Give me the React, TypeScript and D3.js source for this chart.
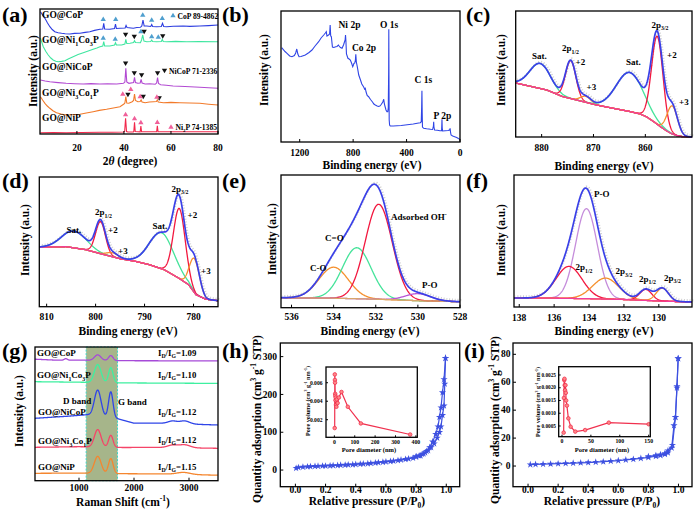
import React from "react";
import * as d3 from "d3";

const FONT = "'Liberation Serif','Times New Roman',Times,serif";

// ================= (a) XRD =================
const xrdTicks = [20, 40, 60, 80];
const xrdCoP = [[4.5,122.3],[5.5,118.5],[6.4,115.7],[7.5,111],[8.5,107.3],[9.5,104.5],[10.6,102.3],[12,101.2],[13.5,100.7],[15,100.3],[17,100],[19,100.6],[21.3,100.7],[23.5,101.6],[25.5,102.3],[27.5,103.6],[29.8,104.7],[31,105],[31.4,110.7],[31.8,105],[34,104.7],[36,105.5],[36.4,110],[36.8,105.5],[38.3,105.7],[40.5,106],[40.9,108.5],[41.3,106.5],[43,106],[44,105.7],[45.5,106.5],[47,106.7],[47.6,108],[48.1,114],[48.6,108],[49.7,108],[51.4,107.5],[51.8,109.5],[52.2,107.5],[53.9,107.3],[55.9,107.5],[56.4,110.7],[56.9,107.5],[58.2,107.3],[61,107.8],[65.2,108],[68,107.6],[72.3,108],[76,108.4],[80,109]];
const xrdNi1Co3P = [[4.5,95.7],[5.7,87.3],[6.8,82.5],[7.8,79],[8.9,76],[9.9,74],[11,72.8],[12,72.3],[13.5,72.6],[14.9,73.3],[16.5,75.2],[18.4,77.3],[20.5,79.4],[22.7,81.3],[24.8,83],[26.9,84.7],[28.5,86],[29.8,87.3],[31,88],[31.4,92.3],[31.8,88],[34,88],[36,89],[36.4,91.3],[36.8,89],[39,89],[40.4,90],[40.8,94.7],[41.2,90.5],[42.6,90.7],[44.1,91.5],[44.5,93.3],[44.9,91.5],[47,91.3],[47.5,94],[48,99],[48.5,93],[49.7,92.3],[51.4,92.5],[51.8,94],[52.2,92.5],[53.9,92.3],[55.9,92.5],[56.3,94.7],[56.7,92.5],[58.2,92.3],[62,92.6],[66.7,92.3],[72,92.5],[80,92.3]];
const xrdNiCoP = [[4.5,54],[6.5,53],[8.5,52.3],[12,51.4],[15.4,50.7],[19,50.3],[22.7,50],[26,50.4],[29.8,50],[33,50.3],[36.9,50],[39.8,50.7],[40.4,52],[40.8,65.7],[41.2,52],[42.1,50.7],[44.1,51.5],[44.5,56.7],[44.9,51.5],[45.9,50.7],[46.9,51],[47.3,54.7],[47.7,51],[49,50],[51,50.2],[53.3,49.7],[53.9,51],[54.3,56.3],[54.7,50.5],[55.6,49.3],[58,48.7],[60.9,48],[66,47.5],[72.3,46.7],[76,46.3],[80,45.7]];
const xrdNi3Co1P = [[4.5,37.3],[5.4,34],[6.4,30.7],[7.4,28],[8.5,25.7],[9.8,23.3],[11.3,21.3],[13.3,20],[15.4,19],[18,19.3],[21.3,19.7],[24,21],[26.9,22.3],[29.5,23.6],[32.6,24.7],[35.5,26],[38.3,27.3],[40,30],[40.4,31],[40.8,37.3],[41.2,31],[42.1,30.7],[43.5,32.3],[44.1,33.5],[44.5,40],[44.9,33.5],[45.9,32.3],[46.9,32.5],[47.3,34],[47.7,32],[49,31.3],[50.8,32],[52.6,32.3],[53.8,32.5],[54.2,34],[54.6,32],[56.8,31.3],[60,31.6],[63.8,31.3],[68,31],[72.3,30.7],[76,29.8],[80,29]];
const xrdNiP = [[4.5,1.3],[10,1.4],[15.4,1.3],[22,1.5],[29.8,1.7],[35,1.8],[39.8,2],[40.3,2.5],[40.7,15.7],[41.1,2.5],[41.7,2],[44,2],[44.2,2.5],[44.5,11.7],[44.8,2.5],[46.9,2.2],[47.2,8],[47.5,2.2],[53.9,2.2],[54.2,8.3],[54.5,2.2],[60,2.2],[66,2.2],[72,2.3],[80,2.3]];
const xrdUpCyan = [[31.2,114.7],[36.5,114.7],[48,119],[51.8,114],[56.3,115.7],[31.2,96],[36.3,95],[47.2,102.5],[51.8,97.5],[54.6,97]];
const xrdDown = [[40.7,99.5],[44.4,97.5],[48.6,102.5],[56.5,98],[40.7,70.7],[44.4,61],[47.5,59],[54.3,61],[41.7,39.5],[48.2,37.5],[55,36]];
const xrdUpPink = [[39.5,40],[42.9,44.7],[46.9,37.5],[54,37],[40.7,19.5],[44.5,15.5],[47.2,11.5],[54.2,11.8]];

// ================= (b) XPS survey =================
const surveyTicks = [1200, 800, 400, 0];
const survey = [[1335,94.3],[1310,90.5],[1295,88.7],[1275,86],[1258,85.3],[1240,86.5],[1230,89],[1222,93],[1214,88],[1205,85.3],[1190,85.5],[1158,87],[1130,89.5],[1108,92],[1085,96],[1058,100.3],[1040,104],[1020,107],[1008,109],[1001,110.3],[996,106],[990,106.5],[984,107],[976,108],[972,117],[968,106],[963,105.3],[955,95],[945,94.5],[930,95.3],[921,95.5],[910,97],[905,96],[895,94.5],[883,93.7],[872,97],[865,100],[860,102],[857,107],[854,101],[850,88],[839,83.7],[830,83],[821,82],[812,79],[803,75.3],[798,77],[794,78.7],[788,79],[783,82],[780,87.7],[776,80],[769,75.3],[758,67],[745,62],[735,58],[721,55],[714,53],[709,53.7],[703,50],[695,46.5],[684,45.3],[670,42.5],[655,40],[645,38],[634,37],[620,36],[610,35.5],[600,36],[590,37.5],[578,40],[571,42.7],[566,38],[560,35],[554,32],[547,30.3],[541,30.3],[537,34],[534,70],[533,112.7],[531.5,60],[530,22],[527,17],[522,16],[500,16],[470,16.3],[440,16.5],[410,17],[380,17.5],[350,18],[320,18.7],[297,19.3],[290,20.3],[287,35],[285,51.3],[283,30],[281,15],[272,13.7],[250,13.2],[220,12.7],[205,12.5],[199,16],[197,20.3],[195,15],[190,12],[170,11.7],[150,11.3],[138,11.3],[136,18],[135,22.7],[133,14],[130,11],[110,11.3],[90,11.5],[78,12],[74,13.7],[71,10],[67,7],[55,6],[40,5.3],[25,4.5],[12,3.5],[5,3],[0,2.7]];

// ================= (c) Ni 2p =================
const niTicks = [880, 870, 860];
const niBg = [[885,54],[882,50.5],[879,47],[876,40.5],[872.5,36],[869.4,32],[866,28.5],[863,25.5],[861,23],[859.7,20],[858.3,15],[857,10],[856,6.5],[855,3.5],[854,1.5],[853,0.5],[851,0]];
const niPeaks = [[880.3,25,2.0],[874.4,38,1.0],[871.5,6,1.0],[863.0,39,2.6],[857.7,88,1.1],[854.8,28,1.0]];

// ================= (d) Co 2p =================
const coTicks = [810, 800, 790, 780];
const coBg = [[811.5,59.5],[806,60],[802,57],[799,53],[795,48],[792,45.5],[789,42],[786,37],[783,28.5],[781,22],[779.5,12],[777.5,7.5],[775,6]];
const coPeaks = [[804.4,16.7,2.5],[799.0,32,1.0],[796.5,4,1.2],[786.5,36,2.5],[782.9,70,1.2],[779.8,34,1.0]];

// ================= (e) O 1s =================
const oTicks = [536, 534, 532, 530, 528];
const oBg = [[536.5,10],[534,9.5],[532,8.5],[530,7],[528,6]];
const oPeaks = [[534.0,31,0.7],[532.9,51,0.68],[531.86,95,0.64],[530.0,7,0.6]];

// ================= (f) P 2p =================
const pTicks = [138, 136, 134, 132, 130];
const pBg = [[138.3,9],[136,8.8],[134,8.3],[132,7.5],[130,6],[128.1,5]];
const pPeaks = [[134.15,90,0.62],[135.15,32,0.75],[133.05,21,0.75],[130.75,11,0.35],[129.8,13,0.35]];

// ================= (g) Raman =================
const ramanTicks = [1000, 2000, 3000];
const ramanBand = [1130, 1700];
const ramanBaseCoP = [[200,121.5],[600,120.5],[1100,120.5],[1800,120],[3527,119.8]];
const ramanPeaksCoP = [[1340,5.5,58],[1578,5,40],[760,1.5,30]];
const ramanBaseNi1Co3P = [[200,99],[1000,98.5],[1800,97.8],[3527,97.3]];
const ramanPeaksNi1Co3P = [[1340,18,60],[1578,15,40]];
const ramanBaseNiCoP = [[200,62.4],[800,64.5],[1150,66],[1700,62],[2000,57.5],[2500,57.5],[3527,55.7]];
const ramanPeaksNiCoP = [[1340,26,60],[1578,26,40],[2700,2.5,80],[2920,3,90]];
const ramanBaseNi3Co1P = [[200,33.4],[1000,34],[1800,33.2],[2400,33.3],[3527,32.4]];
const ramanPeaksNi3Co1P = [[1340,17.5,60],[1578,12,40],[2700,2.5,90],[2920,3,100]];
const ramanBaseNiP = [[200,7.4],[1000,7.6],[1800,7],[2500,6.8],[3527,5.5]];
const ramanPeaksNiP = [[1340,17,62],[1578,15,42],[2900,2,120]];
const ramanRatios = ["1.09", "1.10", "1.12", "1.12", "1.15"];

// ================= (h) BET =================
const isoTicksX = [0, 0.2, 0.4, 0.6, 0.8, 1.0];
const hTicksY = [0, 100, 200, 300];
const hAds = [[0.005,5],[0.02,7],[0.05,8],[0.08,9],[0.1,9.5],[0.13,10],[0.15,10.5],[0.18,11],[0.2,11],[0.23,11.5],[0.25,12],[0.28,12.5],[0.3,13],[0.33,13.5],[0.35,14],[0.38,14.5],[0.4,15],[0.43,16],[0.45,16.5],[0.48,17],[0.5,18],[0.53,19],[0.55,20],[0.58,21],[0.6,22],[0.63,23],[0.65,24],[0.68,25.5],[0.7,27],[0.73,28.5],[0.75,30],[0.78,32],[0.8,35],[0.83,38],[0.85,43],[0.87,50],[0.89,60],[0.91,75],[0.93,95],[0.945,115],[0.955,140],[0.965,165],[0.975,205],[0.985,240],[0.995,296]];
const hDes = [[0.995,296],[0.99,228],[0.985,170],[0.975,145],[0.965,115],[0.955,100],[0.94,85],[0.92,70],[0.9,60],[0.88,52],[0.86,46],[0.84,42],[0.82,38],[0.8,36]];
const hPoreTicksX = [0, 100, 200, 300, 400];
const hPoreTicksY = [0.002, 0.004, 0.006];
const hPore = [[1.7,0.0011],[2.2,0.0069],[2.8,0.0063],[3.3,0.006],[4,0.0048],[4.8,0.0046],[5.6,0.0041],[6.5,0.0044],[8,0.0036],[10,0.0034],[12,0.0042],[16,0.0038],[22,0.0044],[35,0.005],[66,0.0034],[130,0.0016],[372,0.0004]];

// ================= (i) BET =================
const iTicksY = [0, 20, 40, 60, 80];
const iAds = [[0.015,1],[0.05,1.2],[0.1,1.4],[0.15,1.5],[0.2,1.7],[0.25,1.9],[0.3,2.1],[0.35,2.3],[0.4,2.5],[0.45,2.8],[0.5,3.1],[0.55,3.5],[0.6,3.9],[0.65,4.4],[0.7,4.9],[0.75,5.5],[0.8,6.2],[0.85,7.0],[0.88,7.6],[0.91,8.4],[0.93,9.5],[0.955,13],[0.97,29],[0.98,35],[0.99,56],[0.998,77]];
const iDes = [[0.998,77],[0.99,57],[0.98,35],[0.96,15],[0.93,11],[0.91,9],[0.88,8.2],[0.85,7.6],[0.8,6.8]];
const iPoreTicksX = [0, 50, 100, 150];
const iPoreTicksY = [0.0005, 0.001, 0.0015, 0.002, 0.0025];
const iPore = [[2.9,0.00024],[3.3,0.0016],[3.9,0.0023],[4.3,0.00235],[4.8,0.0021],[5.3,0.0019],[6,0.0021],[6.6,0.0018],[7.2,0.0015],[8.5,0.0013],[11,0.0008],[15,0.00047],[23,0.00028],[40,0.00034],[81,0.00063],[150,0.00057]];

// ================= helpers =================
function interpFn(pts: number[][]) {
  const s = [...pts].sort((a, b) => a[0] - b[0]);
  return (x: number) => {
    if (x <= s[0][0]) return s[0][1];
    for (let i = 1; i < s.length; i++) {
      if (x <= s[i][0]) {
        const t = (x - s[i - 1][0]) / (s[i][0] - s[i - 1][0]);
        return s[i - 1][1] + t * (s[i][1] - s[i - 1][1]);
      }
    }
    return s[s.length - 1][1];
  };
}
const gauss = (x: number, c: number, a: number, s: number) => a * Math.exp(-((x - c) ** 2) / (2 * s * s));

function mkLine(sx: any, sy: any) {
  return d3.line<number[]>().x((d) => sx(d[0])).y((d) => sy(d[1]));
}

function Frame({ x0, x1, y0, y1 }: any) {
  return <rect x={x0} y={y0} width={x1 - x0} height={y1 - y0} fill="none" stroke="#000" strokeWidth={1.3} />;
}

function XAx({ sx, ticks, y, ly, fmt, fs = 9.5, len = 3 }: any) {
  return (
    <g>
      {ticks.map((t: number) => (
        <g key={t}>
          <line x1={sx(t)} x2={sx(t)} y1={y} y2={y - len} stroke="#000" strokeWidth={1} />
          <text x={sx(t)} y={ly} textAnchor="middle" fontSize={fs}>{fmt ? fmt(t) : String(t)}</text>
        </g>
      ))}
    </g>
  );
}

function YAx({ sy, ticks, x, lx, fmt, fs = 9.5, len = 3 }: any) {
  return (
    <g>
      {ticks.map((t: number) => (
        <g key={t}>
          <line x1={x} x2={x + len} y1={sy(t)} y2={sy(t)} stroke="#000" strokeWidth={1} />
          <text x={lx} y={sy(t) + fs * 0.33} textAnchor="end" fontSize={fs}>{fmt ? fmt(t) : String(t)}</text>
        </g>
      ))}
    </g>
  );
}

// parts: [text, kind(0 normal, 1 sub, -1 sup), italic?]
function RT({ x, y, parts, size, anchor = "start", rot = false }: any) {
  let cur = 0;
  const kids = parts.map((p: any, i: number) => {
    const k = p[1] || 0;
    const target = k === 1 ? size * 0.28 : k === -1 ? -size * 0.4 : 0;
    const dy = target - cur;
    cur = target;
    return (
      <tspan key={i} dy={dy} fontSize={k ? size * 0.65 : size} fontStyle={p[2] ? "italic" : undefined}>
        {p[0]}
      </tspan>
    );
  });
  return (
    <text x={x} y={y} fontSize={size} textAnchor={anchor} transform={rot ? `rotate(-90 ${x} ${y})` : undefined}>
      {kids}
    </text>
  );
}

function PanelLabel({ x, y, t }: any) {
  return <text x={x} y={y} fontSize={22} fontWeight="bold">({t})</text>;
}

function FitPlot({ sx, sy, bg, peaks, colors, bgColor, step }: any) {
  const dom = sx.domain();
  const lo = Math.min(dom[0], dom[1]);
  const hi = Math.max(dom[0], dom[1]);
  const xs = d3.range(lo, hi + step / 2, step);
  const bgf = interpFn(bg);
  const line = mkLine(sx, sy);
  const env = xs.map((x: number) => [x, bgf(x) + d3.sum(peaks, (p: number[]) => gauss(x, p[0], p[1], p[2]))]);
  const bgPts = xs.map((x: number) => [x, bgf(x)]);
  return (
    <g>
      <path d={line(env) || ""} fill="none" stroke="#cfcfcf" strokeWidth={2.2} strokeDasharray="1 1.8" transform="translate(1.3,-1.6)" />
      {peaks.map((p: number[], i: number) => (
        <path key={i} d={line(xs.map((x: number) => [x, bgf(x) + gauss(x, p[0], p[1], p[2])])) || ""} fill="none" stroke={colors[i]} strokeWidth={1.3} />
      ))}
      <path d={line(bgPts) || ""} fill="none" stroke={bgColor} strokeWidth={1.3} />
      <path d={line(env) || ""} fill="none" stroke="#3a40e8" strokeWidth={1.7} />
    </g>
  );
}

function tri(x: number, y: number, up: boolean, r = 2.8) {
  return up
    ? `M${x},${y - r}L${x + r * 0.95},${y + r * 0.65}L${x - r * 0.95},${y + r * 0.65}Z`
    : `M${x},${y + r}L${x + r * 0.95},${y - r * 0.65}L${x - r * 0.95},${y - r * 0.65}Z`;
}

const GREEN = "#45e39a";
const RED = "#f2183f";
const ORANGE = "#f5902e";
const PINK = "#f23c9c";

export default function App() {
  // ---------- scales ----------
  const ax = d3.scaleLinear().domain([4.3, 80]).range([40, 218]);
  const ay = d3.scaleLinear().domain([0, 125]).range([134, 9]);
  const bx = d3.scaleLinear().domain([1340, 0]).range([281, 460]);
  const by = d3.scaleLinear().domain([0, 131]).range([142, 11]);
  const cx = d3.scaleLinear().domain([885, 851]).range([515.7, 692]);
  const cy = d3.scaleLinear().domain([0, 126]).range([137, 11]);
  const dx = d3.scaleLinear().domain([811.5, 775]).range([39.3, 218]);
  const dy = d3.scaleLinear().domain([0, 129.7]).range([306.7, 177]);
  const ex = d3.scaleLinear().domain([536.5, 528]).range([281, 460]);
  const ey = d3.scaleLinear().domain([0, 132.7]).range([307.7, 175]);
  const fx = d3.scaleLinear().domain([138.3, 128.1]).range([514, 692]);
  const fy = d3.scaleLinear().domain([0, 132]).range([307, 175]);
  const gx = d3.scaleLinear().domain([200, 3527]).range([35, 218]);
  const gy = d3.scaleLinear().domain([0, 133.7]).range([480.7, 347]);
  const hx = d3.scaleLinear().domain([-0.1, 1.089]).range([280.3, 459.7]);
  const hy = d3.scaleLinear().domain([-44, 336]).range([486.7, 343]);
  const hix = d3.scaleLinear().domain([-41, 407]).range([326, 417.3]);
  const hiy = d3.scaleLinear().domain([0.0001, 0.0077]).range([437.3, 367]);
  const ix = d3.scaleLinear().domain([-0.1, 1.09]).range([513, 692]);
  const iy = d3.scaleLinear().domain([-14.8, 88.1]).range([486.7, 343]);
  const iix = d3.scaleLinear().domain([-5.7, 152.8]).range([558.7, 650.3]);
  const iiy = d3.scaleLinear().domain([0.00008, 0.002825]).range([436.7, 366.7]);

  const xrdSeries = [xrdCoP, xrdNi1Co3P, xrdNiCoP, xrdNi3Co1P, xrdNiP];
  const xrdColors = ["#2d3de0", "#3fe6a0", "#b24ad2", "#f27a2a", "#f2284c"];
  const aLine = mkLine(ax, ay);

  const ramanBases = [ramanBaseCoP, ramanBaseNi1Co3P, ramanBaseNiCoP, ramanBaseNi3Co1P, ramanBaseNiP];
  const ramanPeaks = [ramanPeaksCoP, ramanPeaksNi1Co3P, ramanPeaksNiCoP, ramanPeaksNi3Co1P, ramanPeaksNiP];
  const ramanColors = ["#a64ad8", "#3ef0a0", "#2f45e8", "#f54468", "#f5862f"];
  const gLine = mkLine(gx, gy);
  const ramanXs = d3.range(200, 3527, 4);

  const hLine = mkLine(hx, hy);
  const hiLine = mkLine(hix, hiy);
  const iLine = mkLine(ix, iy);
  const iiLine = mkLine(iix, iiy);
  const star = d3.symbol().type(d3.symbolStar).size(16)() || "";
  const ISO = "#3d50e0";
  const PORE = "#f0304e";

  const xTitle = (x: number, y: number, parts: any[]) => <RT x={x} y={y} parts={parts} size={11.5} anchor="middle" />;
  const yTitle = (x: number, y: number, parts: any[], size = 11.5) => <RT x={x} y={y} parts={parts} size={size} anchor="middle" rot />;
  const intensity: any[] = [["Intensity (a.u.)", 0]];
  const be: any[] = [["Binding energy (eV)", 0]];

  return (
    <svg width={695} height={512} style={{ position: "absolute", left: 0, top: 0, background: "#fff" }} fontFamily={FONT} fontWeight="bold" fill="#000">
      <rect x={0} y={0} width={695} height={512} fill="#fff" />

      {/* ============ (a) ============ */}
      <PanelLabel x={2} y={22} t="a" />
      {xrdSeries.map((s, i) => (
        <path key={i} d={aLine(s) || ""} fill="none" stroke={xrdColors[i]} strokeWidth={1.1} />
      ))}
      {xrdUpCyan.map((m, i) => <path key={"uc" + i} d={tri(ax(m[0]), ay(m[1]), true)} fill="#4f9fcf" />)}
      {xrdDown.map((m, i) => <path key={"dk" + i} d={tri(ax(m[0]), ay(m[1]), false)} fill="#111" />)}
      {xrdUpPink.map((m, i) => <path key={"up" + i} d={tri(ax(m[0]), ay(m[1]), true)} fill="#f0609a" />)}
      <Frame x0={40} x1={218} y0={9} y1={134} />
      <XAx sx={ax} ticks={xrdTicks} y={134} ly={151} />
      {xTitle(130, 165, [["2", 0], ["θ", 0, true], [" (degree)", 0]])}
      {yTitle(37, 71, intensity)}
      <RT x={42} y={17.5} size={9.5} parts={[["GO@CoP", 0]]} />
      <RT x={42} y={43} size={9.5} parts={[["GO@Ni", 0], ["1", 1], ["Co", 0], ["3", 1], ["P", 0]]} />
      <RT x={42} y={70} size={9.5} parts={[["GO@NiCoP", 0]]} />
      <RT x={42} y={96} size={9.5} parts={[["GO@Ni", 0], ["3", 1], ["Co", 0], ["1", 1], ["P", 0]]} />
      <RT x={42} y={121} size={9.5} parts={[["GO@NiP", 0]]} />
      <path d={tri(173, 15.5, true)} fill="#4f9fcf" />
      <RT x={177.5} y={18.5} size={7.6} parts={[["CoP 89-4862", 0]]} />
      <path d={tri(164.5, 70.5, false)} fill="#111" />
      <RT x={169} y={73.5} size={7.6} parts={[["NiCoP 71-2336", 0]]} />
      <path d={tri(171, 127, true)} fill="#f0609a" />
      <RT x={175.5} y={130} size={7.6} parts={[["Ni", 0], ["2", 1], ["P 74-1385", 0]]} />

      {/* ============ (b) ============ */}
      <PanelLabel x={222} y={22} t="b" />
      <path d={mkLine(bx, by)(survey) || ""} fill="none" stroke="#2f45e6" strokeWidth={1.1} />
      <Frame x0={281} x1={460} y0={11} y1={142} />
      <XAx sx={bx} ticks={surveyTicks} y={142} ly={156} />
      {xTitle(372, 169, be)}
      {yTitle(267.5, 70, intensity)}
      <RT x={338.5} y={28} size={9.5} parts={[["Ni 2p", 0]]} />
      <RT x={352} y={51} size={9.5} parts={[["Co 2p", 0]]} />
      <RT x={380} y={28} size={9.5} parts={[["O 1s", 0]]} />
      <RT x={414.5} y={83} size={9.5} parts={[["C 1s", 0]]} />
      <RT x={433.5} y={119} size={9.5} parts={[["P 2p", 0]]} />

      {/* ============ (c) ============ */}
      <PanelLabel x={466} y={22} t="c" />
      <FitPlot sx={cx} sy={cy} bg={niBg} peaks={niPeaks} colors={[GREEN, RED, ORANGE, GREEN, RED, ORANGE]} bgColor={PINK} step={0.05} />
      <Frame x0={515.7} x1={692} y0={11} y1={137} />
      <XAx sx={cx} ticks={niTicks} y={137} ly={151} />
      {xTitle(604, 169.5, be)}
      {yTitle(504.5, 70, intensity)}
      <RT x={532} y={58.5} size={9} parts={[["Sat.", 0]]} />
      <RT x={562} y={51} size={9} parts={[["2p", 0], ["1/2", 1]]} />
      <RT x={575.5} y={65} size={9} parts={[["+2", 0]]} />
      <RT x={586.5} y={90} size={9} parts={[["+3", 0]]} />
      <RT x={626} y={65} size={9} parts={[["Sat.", 0]]} />
      <RT x={651.5} y={27.5} size={9} parts={[["2p", 0], ["3/2", 1]]} />
      <RT x={667} y={58} size={9} parts={[["+2", 0]]} />
      <RT x={679} y={104.5} size={9} parts={[["+3", 0]]} />

      {/* ============ (d) ============ */}
      <PanelLabel x={2} y={188} t="d" />
      <FitPlot sx={dx} sy={dy} bg={coBg} peaks={coPeaks} colors={[GREEN, RED, ORANGE, GREEN, RED, ORANGE]} bgColor={PINK} step={0.05} />
      <Frame x0={39.3} x1={218} y0={177} y1={306.7} />
      <XAx sx={dx} ticks={coTicks} y={306.7} ly={320} />
      {xTitle(128, 335, be)}
      {yTitle(29, 240, intensity)}
      <RT x={66.5} y={232.5} size={9} parts={[["Sat.", 0]]} />
      <RT x={95} y={215} size={9} parts={[["2p", 0], ["1/2", 1]]} />
      <RT x={108} y={233} size={9} parts={[["+2", 0]]} />
      <RT x={118} y={254} size={9} parts={[["+3", 0]]} />
      <RT x={152.5} y={229} size={9} parts={[["Sat.", 0]]} />
      <RT x={171.5} y={191.5} size={9} parts={[["2p", 0], ["3/2", 1]]} />
      <RT x={187.5} y={218} size={9} parts={[["+2", 0]]} />
      <RT x={201} y={273.5} size={9} parts={[["+3", 0]]} />

      {/* ============ (e) ============ */}
      <PanelLabel x={222} y={188} t="e" />
      <FitPlot sx={ex} sy={ey} bg={oBg} peaks={oPeaks} colors={[ORANGE, GREEN, RED, "#b856d6"]} bgColor="#d9a66b" step={0.02} />
      <Frame x0={281} x1={460} y0={175} y1={307.7} />
      <XAx sx={ex} ticks={oTicks} y={307.7} ly={320} />
      {xTitle(370, 335, be)}
      {yTitle(275.5, 239, intensity)}
      <RT x={391} y={220} size={9} parts={[["Adsorbed OH", 0], ["-", -1]]} />
      <RT x={325} y={240.5} size={9} parts={[["C=O", 0]]} />
      <RT x={310} y={271} size={9} parts={[["C-O", 0]]} />
      <RT x={422} y={287.5} size={9} parts={[["P-O", 0]]} />

      {/* ============ (f) ============ */}
      <PanelLabel x={466} y={188} t="f" />
      <FitPlot sx={fx} sy={fy} bg={pBg} peaks={pPeaks} colors={["#c58ddb", RED, ORANGE, RED, ORANGE]} bgColor={PINK} step={0.02} />
      <Frame x0={514} x1={692} y0={175} y1={307} />
      <XAx sx={fx} ticks={pTicks} y={307} ly={320.5} />
      {xTitle(604, 335, be)}
      {yTitle(504.5, 240, intensity)}
      <RT x={594} y={197} size={9} parts={[["P-O", 0]]} />
      <RT x={575.5} y={270} size={9} parts={[["2p", 0], ["1/2", 1]]} />
      <RT x={615.5} y={274} size={9} parts={[["2p", 0], ["3/2", 1]]} />
      <RT x={639} y={281.5} size={9} parts={[["2p", 0], ["1/2", 1]]} />
      <RT x={664} y={280.5} size={9} parts={[["2p", 0], ["3/2", 1]]} />

      {/* ============ (g) ============ */}
      <PanelLabel x={2} y={358} t="g" />
      <rect x={gx(ramanBand[0])} y={347} width={gx(ramanBand[1]) - gx(ramanBand[0])} height={133.7} fill="#a6b58a" stroke="#3fd6c8" strokeWidth={1} strokeDasharray="2 1.5" />
      {ramanBases.map((b, i) => {
        const bf = interpFn(b);
        const pts = ramanXs.map((x) => [x, bf(x) + d3.sum(ramanPeaks[i], (p: number[]) => gauss(x, p[0], p[1], p[2]))]);
        return <path key={i} d={gLine(pts) || ""} fill="none" stroke={ramanColors[i]} strokeWidth={1.3} />;
      })}
      <Frame x0={35} x1={218} y0={347} y1={480.7} />
      <XAx sx={gx} ticks={ramanTicks} y={480.7} ly={491} />
      {xTitle(123, 506, [["Raman Shift (cm", 0], ["-1", -1], [")", 0]])}
      {yTitle(22.5, 411, intensity)}
      <RT x={37} y={356} size={9} parts={[["GO@CoP", 0]]} />
      <RT x={37} y={378} size={9} parts={[["GO@Ni", 0], ["1", 1], ["Co", 0], ["3", 1], ["P", 0]]} />
      <RT x={38} y={415} size={9} parts={[["GO@NiCoP", 0]]} />
      <RT x={38} y={444} size={9} parts={[["GO@Ni", 0], ["3", 1], ["Co", 0], ["1", 1], ["P", 0]]} />
      <RT x={38} y={470} size={9} parts={[["GO@NiP", 0]]} />
      <RT x={63} y={404} size={9} parts={[["D band", 0]]} />
      <RT x={118} y={405} size={9} parts={[["G band", 0]]} />
      {ramanRatios.map((r, i) => (
        <RT key={i} x={158} y={[356, 378, 415, 443, 470][i]} size={8.8} parts={[["I", 0], ["D", 1], ["/I", 0], ["G", 1], ["=" + r, 0]]} />
      ))}

      {/* ============ (h) ============ */}
      <PanelLabel x={222} y={358} t="h" />
      <path d={hLine(hAds) || ""} fill="none" stroke={ISO} strokeWidth={1.2} />
      <path d={hLine(hDes) || ""} fill="none" stroke={ISO} strokeWidth={1.2} />
      {[...hAds, ...hDes].map((d, i) => (
        <path key={i} d={star} transform={`translate(${hx(d[0])},${hy(d[1])})`} fill={ISO} />
      ))}
      <Frame x0={280.3} x1={459.7} y0={343} y1={486.7} />
      <XAx sx={hx} ticks={isoTicksX} y={486.7} ly={493} fmt={d3.format(".1f")} />
      <YAx sy={hy} ticks={hTicksY} x={280.3} lx={277} />
      {xTitle(367, 505, [["Relative pressure (P/P", 0], ["0", 1], [")", 0]])}
      {yTitle(261, 419, [["Quantity adsorption (cm", 0], ["3", -1], [" g", 0], ["-1", -1], [" STP)", 0]], 11.5)}
      {/* inset */}
      <rect x={326} y={367} width={91.3} height={70.3} fill="#fff" />
      <path d={hiLine(hPore) || ""} fill="none" stroke={PORE} strokeWidth={1.2} />
      {hPore.map((d, i) => (
        <circle key={i} cx={hix(d[0])} cy={hiy(d[1])} r={1.8} fill="#f88" stroke={PORE} strokeWidth={0.8} />
      ))}
      <Frame x0={326} x1={417.3} y0={367} y1={437.3} />
      <XAx sx={hix} ticks={hPoreTicksX} y={437.3} ly={444} fs={5.8} len={2} />
      <YAx sy={hiy} ticks={hPoreTicksY} x={326} lx={322.5} fs={5.6} len={2} fmt={d3.format(".3f")} />
      <RT x={369} y={452} size={6.5} anchor="middle" parts={[["Pore diameter (nm)", 0]]} />
      <RT x={309.5} y={401} size={6.2} anchor="middle" rot parts={[["Pore volume (cm", 0], ["3", -1], [" g", 0], ["-1", -1], [" nm", 0], ["-1", -1], [")", 0]]} />

      {/* ============ (i) ============ */}
      <PanelLabel x={464} y={358} t="i" />
      <path d={iLine(iAds) || ""} fill="none" stroke={ISO} strokeWidth={1.2} />
      <path d={iLine(iDes) || ""} fill="none" stroke={ISO} strokeWidth={1.2} />
      {[...iAds, ...iDes].map((d, i) => (
        <path key={i} d={star} transform={`translate(${ix(d[0])},${iy(d[1])})`} fill={ISO} />
      ))}
      <Frame x0={513} x1={692} y0={343} y1={486.7} />
      <XAx sx={ix} ticks={isoTicksX} y={486.7} ly={493} fmt={d3.format(".1f")} />
      <YAx sy={iy} ticks={iTicksY} x={513} lx={510.5} />
      {xTitle(602, 505, [["Relative pressure (P/P", 0], ["0", 1], [")", 0]])}
      {yTitle(499, 420, [["Quantity adsorption (cm", 0], ["3", -1], [" g", 0], ["-1", -1], [" STP)", 0]], 11.5)}
      {/* inset */}
      <rect x={558.7} y={366.7} width={91.6} height={70} fill="#fff" />
      <path d={iiLine(iPore) || ""} fill="none" stroke={PORE} strokeWidth={1.2} />
      {iPore.map((d, i) => (
        <circle key={i} cx={iix(d[0])} cy={iiy(d[1])} r={1.8} fill="#f88" stroke={PORE} strokeWidth={0.8} />
      ))}
      <Frame x0={558.7} x1={650.3} y0={366.7} y1={436.7} />
      <XAx sx={iix} ticks={iPoreTicksX} y={436.7} ly={443} fs={5.8} len={2} />
      <YAx sy={iiy} ticks={iPoreTicksY} x={558.7} lx={556} fs={5.3} len={2} fmt={d3.format(".4f")} />
      <RT x={602} y={452} size={6.5} anchor="middle" parts={[["Pore diameter (nm)", 0]]} />
      <RT x={540} y={402} size={6.2} anchor="middle" rot parts={[["Pore volume (cm", 0], ["3", -1], [" g", 0], ["-1", -1], [" nm", 0], ["-1", -1], [")", 0]]} />
    </svg>
  );
}
